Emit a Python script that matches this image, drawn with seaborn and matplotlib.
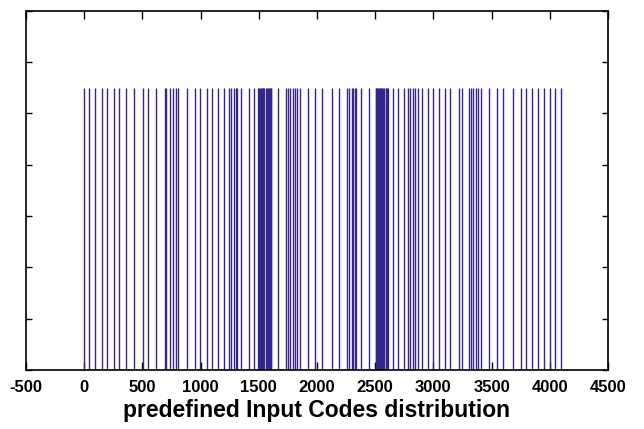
import numpy as np
import pandas as pd
import seaborn as sns
import matplotlib.pyplot as plt

# predefined input codes (x positions of the lines)
codes = [0, 45, 97, 149, 200, 252, 303, 355, 424, 501, 552, 621, 690, 707, 733,
         759, 785, 802, 879, 956, 999, 1051, 1102, 1149, 1197, 1240, 1257, 1283,
         1300, 1317, 1351, 1420, 1455, 1489,
         1503, 1510, 1518, 1525, 1532, 1540, 1547, 1565, 1572, 1580, 1587, 1594,
         1601, 1607,
         1661, 1730, 1755, 1772, 1798, 1815, 1832, 1850, 1927, 1987, 2047, 2125,
         2185, 2257, 2274, 2300, 2312, 2324, 2339, 2382, 2451,
         2503, 2510, 2517, 2524, 2531, 2538, 2545, 2552, 2559, 2566, 2573, 2590,
         2597, 2604, 2609,
         2649, 2692, 2752, 2786, 2803, 2829, 2846, 2872, 2906, 2958, 3001, 3052,
         3104, 3147, 3224, 3250, 3302, 3327, 3344, 3370, 3387, 3413, 3482, 3551,
         3602, 3683, 3749, 3800, 3851, 3903, 3954, 4006, 4049, 4095]
x_ticks = [-500, 0, 500, 1000, 1500, 2000, 2500, 3000, 3500, 4000, 4500]
y_ticks = [0, 1, 2, 3, 4, 5, 6, 7]
line_height = 5.5

df = pd.DataFrame({"code": codes})

sns.set_style("ticks")
plt.rcParams['font.family'] = ['Liberation Sans', 'DejaVu Sans']
plt.rcParams['text.color'] = 'black'
plt.rcParams['axes.labelcolor'] = 'black'
plt.rcParams['xtick.color'] = 'black'
plt.rcParams['ytick.color'] = 'black'

fig = plt.figure(figsize=(6.44, 4.29), dpi=100)
ax = fig.add_axes([0.0404, 0.1375, 0.9036, 0.8375])

ax.set_xlim(-500, 4500)
ax.set_ylim(0, 7)

# each code drawn as a vertical line from 0 to line_height
sns.rugplot(data=df, x="code", height=line_height / 7, ax=ax,
            color="#33288a", linewidth=1.0, alpha=1, expand_margins=False)

ax.set_xticks(x_ticks)
ax.set_xticklabels([str(t) for t in x_ticks], fontweight="bold", fontsize=12)
ax.set_yticks(y_ticks)
ax.set_yticklabels([])
ax.tick_params(axis="x", direction="in", length=5.5, width=1, top=True, pad=7)
ax.tick_params(axis="y", direction="in", length=4, width=1, right=True)
for s in ax.spines.values():
    s.set_linewidth(1.2)
    s.set_color("black")

ax.set_xlabel("predefined Input Codes distribution", fontweight="bold",
              fontsize=16.5, labelpad=3)
ax.set_ylabel("")

fig.savefig("out.png", dpi=100)
